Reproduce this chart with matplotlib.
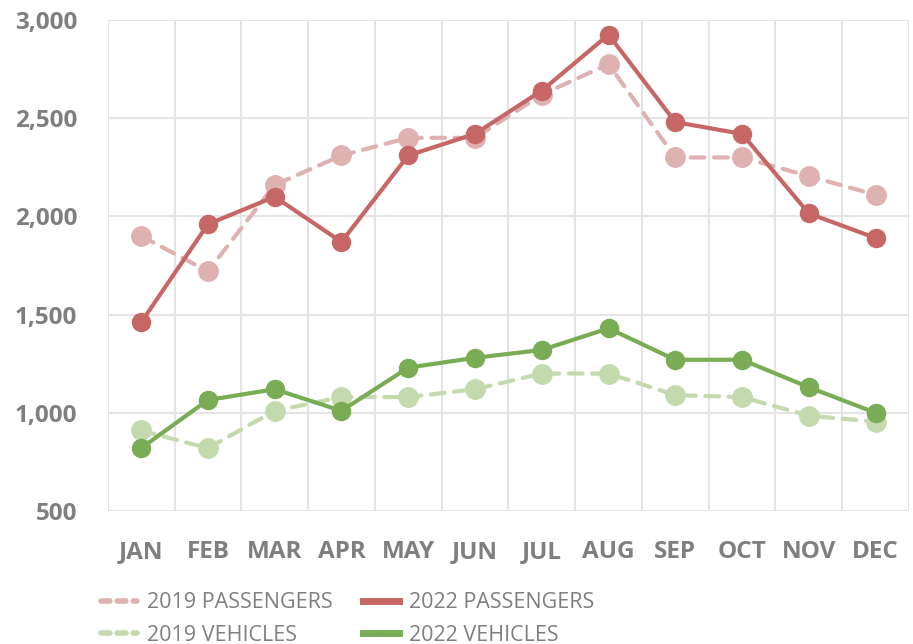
import matplotlib
matplotlib.use("Agg")
import matplotlib.pyplot as plt
from matplotlib.lines import Line2D
import numpy as np

months = ["JAN", "FEB", "MAR", "APR", "MAY", "JUN",
          "JUL", "AUG", "SEP", "OCT", "NOV", "DEC"]

passengers_2019 = [1900, 1720, 2160, 2310, 2400, 2400, 2620, 2775, 2300, 2300, 2205, 2110]
passengers_2022 = [1460, 1960, 2100, 1870, 2310, 2420, 2640, 2925, 2480, 2420, 2015, 1890]
vehicles_2019 = [910, 820, 1010, 1080, 1080, 1120, 1200, 1200, 1090, 1080, 985, 955]
vehicles_2022 = [820, 1065, 1120, 1010, 1230, 1280, 1320, 1430, 1270, 1270, 1130, 1000]

yticks = [500, 1000, 1500, 2000, 2500, 3000]

red_dark, red_light = "#C66766", "#DFB2B2"
green_dark, green_light = "#79AC55", "#C4DAAE"
grid_c = "#E4E4E4"
text_c = "#7F7F7F"

fig = plt.figure(figsize=(9.13, 6.44), dpi=100)
ax = fig.add_axes([0.118, 0.2065, 0.8776, 0.7625])

x = np.arange(len(months))

# 2019 series: light dashed lines
for vals, col in [(passengers_2019, red_light), (vehicles_2019, green_light)]:
    ax.plot(x, vals, color=col, lw=3, ls=(0, (3.3, 2.3)), marker="o", ms=14,
            zorder=3, dash_capstyle="round")

# 2022 series: solid darker lines
for vals, col in [(passengers_2022, red_dark), (vehicles_2022, green_dark)]:
    ax.plot(x, vals, color=col, lw=3, marker="o", ms=13, zorder=4)

ax.set_xlim(-0.5, 11.5)
ax.set_ylim(500, 3000)
ax.set_yticks(yticks)
ax.set_yticklabels([f"{v:,}" for v in yticks])
ax.set_xticks(x)
ax.set_xticklabels(months)

# gridlines between the months, not on them
ax.set_xticks(np.arange(-0.5, 12, 1), minor=True)
ax.grid(False)
ax.grid(True, which="minor", axis="x", color=grid_c, lw=1.5)
ax.grid(True, which="major", axis="y", color=grid_c, lw=1.5)
ax.set_axisbelow(True)
for s in ax.spines.values():
    s.set_visible(False)

ax.tick_params(axis="both", which="both", length=0)
ax.tick_params(axis="y", pad=22)
ax.tick_params(axis="x", pad=21)
for lab in ax.get_xticklabels() + ax.get_yticklabels():
    lab.set_fontfamily("Open Sans")
    lab.set_fontweight("bold")
    lab.set_fontsize(17.5)
    lab.set_color(text_c)

handles = [
    Line2D([], [], color=red_light, lw=4, ls=(0, (1.6, 1.3)), dash_capstyle="round"),
    Line2D([], [], color=green_light, lw=4, ls=(0, (1.6, 1.3)), dash_capstyle="round"),
    Line2D([], [], color=red_dark, lw=5),
    Line2D([], [], color=green_dark, lw=5),
]
labels = ["2019 PASSENGERS", "2019 VEHICLES", "2022 PASSENGERS", "2022 VEHICLES"]
leg = fig.legend(handles, labels, ncol=2, loc="upper left",
                 bbox_to_anchor=(0.111, 0.080), frameon=False,
                 handlelength=1.65, handletextpad=0.45, columnspacing=1.45,
                 labelspacing=0.52, borderaxespad=0, borderpad=0,
                 prop={"family": "Open Sans", "size": 15.5})
for t in leg.get_texts():
    t.set_color(text_c)

fig.savefig("out.png", dpi=100)
